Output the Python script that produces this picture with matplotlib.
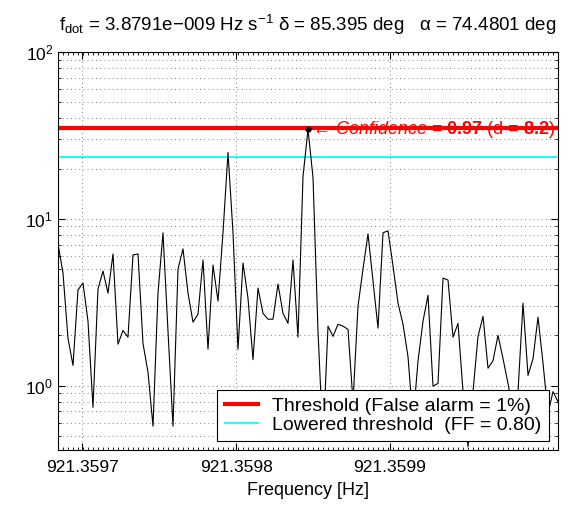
import numpy as np
import matplotlib
matplotlib.use('Agg')
import matplotlib.pyplot as plt
from matplotlib.ticker import FixedLocator, LogLocator, NullFormatter

plt.rcParams['font.family'] = ['Liberation Sans', 'DejaVu Sans']
plt.rcParams['mathtext.fontset'] = 'custom'
plt.rcParams['mathtext.rm'] = 'Liberation Sans'
plt.rcParams['mathtext.it'] = 'Liberation Sans:italic'
plt.rcParams['mathtext.bf'] = 'Liberation Sans:bold'

# spectrum
f_start = 921.3596844
f_step = 3.2468e-6
power = [7.07, 4.73, 1.92, 1.32, 3.74, 4.12, 2.43, 0.74, 3.79, 4.86,
         3.58, 6.15, 1.77, 2.14, 1.95, 6.07, 6.15, 1.79, 1.20, 0.57,
         3.58, 8.24, 2.12, 0.57, 5.0, 6.6, 3.58, 2.40, 2.68, 5.66,
         1.65, 5.28, 3.21, 8.24, 25.0, 8.24, 1.65, 5.43, 3.34, 1.43,
         3.84, 2.71, 2.50, 2.50, 4.06, 2.71, 2.36, 5.66, 1.95, 17.9,
         34.4, 17.7, 2.12, 0.46, 2.27, 1.97, 2.33, 2.27, 2.17, 0.80,
         2.99, 5.0, 8.12, 4.23, 2.21, 8.24, 8.47, 5.21, 3.12, 2.33,
         1.49, 0.61, 1.40, 2.43, 3.48, 0.99, 1.03, 4.41, 4.29, 1.95,
         2.36, 0.92, 0.43, 0.92, 1.97, 2.60, 1.27, 1.41, 2.0, 1.45,
         1.03, 0.70, 0.92, 3.12, 1.15, 1.45, 2.57, 1.36, 0.68, 0.92,
         0.80]
threshold = 35.2
lowered = 23.4
peak_idx = 50
xticks = [921.3597, 921.3598, 921.3599]
xtick_labels = ['921.3597', '921.3598', '921.3599']

freq = f_start + f_step * np.arange(len(power))

fig = plt.figure(figsize=(5.84, 5.08), dpi=100)
ax = fig.add_axes([0.0993, 0.114, 0.8562, 0.7836])

l1, = ax.plot([freq[0], freq[-1]], [threshold, threshold], color='red', lw=3)
l2, = ax.plot([freq[0], freq[-1]], [lowered, lowered], color='cyan', lw=1.3)
ax.plot(freq, power, color='black', lw=0.8)
ax.plot(freq[peak_idx], power[peak_idx], 'k.', ms=7)
ax.annotate('\u2190 $\\it{Confidence}$ = $\\bf{0.97}$ (d = $\\bf{8.2}$)',
            xy=(freq[peak_idx], power[peak_idx]), xytext=(3, 0),
            textcoords='offset points', color='red', fontsize=13,
            ha='left', va='center')

ax.set_yscale('log')
ax.set_ylim(0.41, 100)
ax.set_xlim(freq[0], freq[-1])
ax.xaxis.set_major_locator(FixedLocator(xticks))
ax.set_xticklabels(xtick_labels)
ax.xaxis.set_minor_locator(FixedLocator(freq))
ax.yaxis.set_minor_locator(LogLocator(base=10, subs=np.arange(2, 10)))
ax.yaxis.set_minor_formatter(NullFormatter())
ax.tick_params(which='both', direction='in', top=True, right=True, labelsize=12.5)
ax.tick_params(which='major', length=5)
ax.tick_params(which='minor', length=2.5)
ax.tick_params(axis='x', which='minor', length=2)
ax.tick_params(axis='x', which='major', pad=7)
ax.grid(True, which='major', color='0.35', linestyle=(0, (1, 4)), lw=0.6)
ax.grid(True, which='minor', axis='y', color='0.35', linestyle=(0, (1, 4)), lw=0.6)
for s in ax.spines.values():
    s.set_linewidth(0.8)

ax.set_xlabel('Frequency [Hz]', fontsize=13, labelpad=5)
ax.set_title('f$_{\\rm dot}$ = 3.8791e\u2212009 Hz s$^{-1}$ \u03b4 = 85.395 deg   '
             '\u03b1 = 74.4801 deg', fontsize=13.5, pad=15)

leg = ax.legend([l1, l2], ['Threshold (False alarm = 1%)',
                           'Lowered threshold  (FF = 0.80)'],
                loc='lower right', fontsize=14, fancybox=False, framealpha=1,
                edgecolor='black', borderaxespad=0.45, handlelength=1.7,
                borderpad=0.4, labelspacing=0.05, handletextpad=0.75)
leg.get_frame().set_linewidth(0.8)

fig.savefig('out.png', dpi=100)
